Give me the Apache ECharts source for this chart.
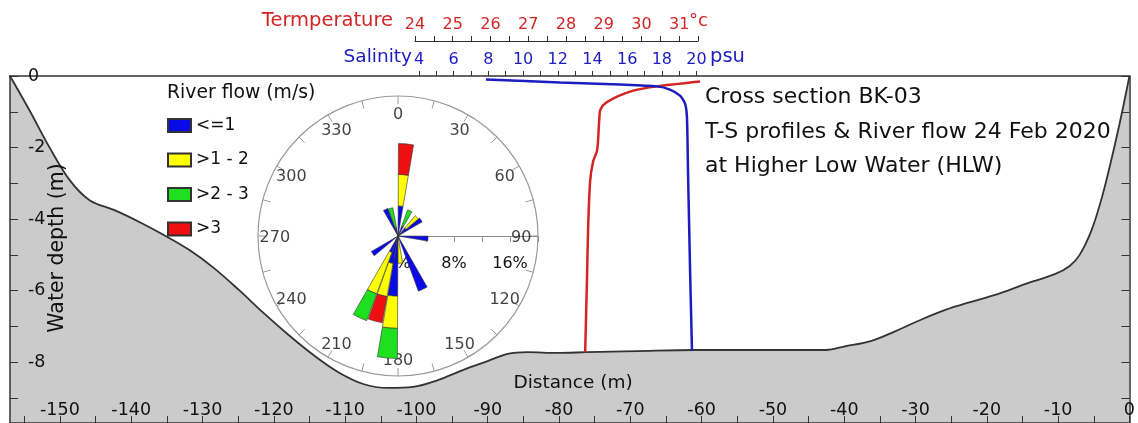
<!DOCTYPE html>
<html>
<head>
<meta charset="utf-8">
<script src="https://cdn.jsdelivr.net/npm/echarts@6/dist/echarts.min.js"></script>
<style>
html,body{margin:0;padding:0;background:#fff;}
#chart{width:1138px;height:423px;}
</style>
</head>
<body>
<div id="chart"></div>
<script>
// ---------------- DATA ----------------
// Cross-section bottom profile (distance in m, depth in m)
const bathyX = [-157.0, -154.21, -151.42, -148.63, -145.84, -142.35, -138.86, -135.37, -131.88, -128.39, -124.90, -121.41, -117.92, -114.44, -110.95, -107.46, -103.97, -100.48, -96.99, -93.50, -90.01, -87.22, -84.43, -80.24, -76.06, -69.08, -60.71, -42.57, -39.77, -36.28, -32.79, -29.31, -25.82, -22.33, -18.84, -14.65, -10.47, -8.38, -6.98, -5.31, -3.77, -2.38, -1.12, 0];
const bathyDepth = [0, -0.98, -2.01, -2.91, -3.47, -3.75, -4.08, -4.45, -4.86, -5.37, -5.98, -6.63, -7.24, -7.80, -8.28, -8.61, -8.72, -8.69, -8.50, -8.22, -7.97, -7.77, -7.72, -7.74, -7.72, -7.69, -7.66, -7.66, -7.55, -7.41, -7.13, -6.82, -6.54, -6.32, -6.12, -5.82, -5.54, -5.31, -5.00, -4.31, -3.33, -2.21, -1.09, 0];

// Temperature profile (deg C vs depth m)
const tempC = [31.77, 30.41, 29.78, 29.25, 28.98, 28.90, 28.85, 28.82, 28.72, 28.64, 28.59, 28.56, 28.51];
const tempDepth = [-0.13, -0.29, -0.41, -0.63, -0.82, -0.99, -1.83, -2.11, -2.39, -2.95, -4.18, -5.58, -7.73];

// Salinity profile (psu vs depth m)
const salPsu = [7.86, 12.13, 15.59, 17.72, 18.47, 19.05, 19.34, 19.45, 19.51, 19.63, 19.74];
const salDepth = [-0.10, -0.18, -0.24, -0.29, -0.38, -0.55, -0.77, -1.16, -2.64, -5.44, -7.67];

// Tick labels
const distanceTicks = [-150, -140, -130, -120, -110, -100, -90, -80, -70, -60, -50, -40, -30, -20, -10, 0];
const distanceMinorTicks = [-155, -150, -145, -140, -135, -130, -125, -120, -115, -110, -105, -100, -95, -90, -85, -80, -75, -70, -65, -60, -55, -50, -45, -40, -35, -30, -25, -20, -15, -10, -5, 0];
const depthTicks = [0, -2, -4, -6, -8];
const depthMinorTicks = [0, -1, -2, -3, -4, -5, -6, -7, -8, -9];
const tempTicks = [24, 25, 26, 27, 28, 29, 30, 31];
const salTicks = [4, 6, 8, 10, 12, 14, 16, 18, 20];
const compassLabels = [0, 30, 60, 90, 120, 150, 180, 210, 240, 270, 300, 330];

// River flow rose: direction bins (deg, start of 10-deg bin) and frequency (%) per speed class
const windDirs = [0, 10, 20, 30, 40, 50, 60, 70, 80, 90, 100, 110, 120, 130, 140, 150, 160, 170, 180, 190, 200, 210, 220, 230, 240, 250, 260, 270, 280, 290, 300, 310, 320, 330, 340, 350];
const flowLe1  = [4.3, 0, 1.5, 0, 1.5, 4.0, 0, 0, 0, 4.3, 0, 0, 0, 0, 0, 8.4, 0, 0.4, 8.6, 4.0, 2.5, 0, 0, 4.4, 0, 0, 0, 0, 0, 0, 0, 0, 0, 4.2, 1.2, 0];
const flow1to2 = [4.5, 0, 0, 0, 2.3, 0, 0, 0, 0, 0, 0, 0, 0, 0, 0, 0, 0, 3.5, 4.6, 4.8, 6.3, 0, 0, 0, 0, 0, 0, 0, 0, 0, 0, 0, 0, 0, 0, 0];
const flow2to3 = [0, 0, 2.5, 0, 0, 0, 0, 0, 0, 0, 0, 0, 0, 0, 0, 0, 0, 0, 4.3, 0, 4.1, 0, 0, 0, 0, 0, 0, 0, 0, 0, 0, 0, 0, 0, 2.9, 0];
const flowGt3  = [4.4, 0, 0, 0, 0, 0, 0, 0, 0, 0, 0, 0, 0, 0, 0, 0, 0, 0, 0, 3.8, 0, 0, 0, 0, 0, 0, 0, 0, 0, 0, 0, 0, 0, 0, 0, 0];
const speedClasses = ['<=1', '>1 - 2', '>2 - 3', '>3'];

// ---------------- CHART ----------------
const F = 'DejaVu Sans';
const chart = echarts.init(document.getElementById('chart'), null, {renderer: 'canvas'});

// angle category order for bar polar: start at east (compass 90) going clockwise
const barCats = [];
for (let i = 0; i < windDirs.length; i++) barCats.push(String(windDirs[(i + 9) % windDirs.length]));
const flowArrays = [flowLe1, flow1to2, flow2to3, flowGt3];
const flowColors = ['#0a0ae6', '#ffff00', '#1fe01f', '#ee1010'];

const roseSeries = speedClasses.map((name, k) => ({
  type: 'bar',
  name: name,
  coordinateSystem: 'polar',
  polarIndex: 1,
  stack: 'flow',
  barCategoryGap: '6%',
  data: barCats.map(c => {
    const v = flowArrays[k][windDirs.indexOf(+c)];
    return v > 0 ? v : null;
  }),
  itemStyle: {color: flowColors[k], borderColor: '#333', borderWidth: 0.6},
  z: 5,
  silent: true
}));

const CENTER = [398, 236];

const option = {
  animation: false,
  backgroundColor: '#ffffff',
  textStyle: {fontFamily: F},
  grid: [
    {left: 10, right: 3, top: 76, bottom: 0},
    {left: 415, width: 283, top: 76, bottom: 0},
    {left: 419, width: 277.5, top: 76, bottom: 0}
  ],
  xAxis: [
    {
      gridIndex: 0, type: 'value', position: 'bottom', min: -157, max: 0, z: 10,
      axisLine: {show: true, onZero: false, lineStyle: {color: '#333', width: 1.5}},
      axisTick: {show: true, inside: true, length: 7, customValues: distanceMinorTicks, lineStyle: {color: '#333'}},
      axisLabel: {inside: true, margin: 4, customValues: distanceTicks, fontFamily: F, fontSize: 17.5, color: '#111'},
      splitLine: {show: false}
    },
    {
      gridIndex: 0, type: 'value', position: 'top', min: -157, max: 0, z: 10,
      axisLine: {show: true, onZero: false, lineStyle: {color: '#333', width: 1.5}},
      axisTick: {show: false}, axisLabel: {show: false}, splitLine: {show: false}
    },
    {
      gridIndex: 1, type: 'value', position: 'top', offset: 35, min: 24, max: 31.5, interval: 0.5,
      axisLine: {show: true, onZero: false, lineStyle: {color: '#333', width: 1.2}},
      axisTick: {show: true, length: 5, lineStyle: {color: '#333'}},
      axisLabel: {margin: 8, customValues: tempTicks, fontFamily: F, fontSize: 16, color: '#d42424'},
      splitLine: {show: false}
    },
    {
      gridIndex: 2, type: 'value', position: 'top', min: 4, max: 20, interval: 1,
      axisLine: {show: false, onZero: false},
      axisTick: {show: true, length: 5, lineStyle: {color: '#333'}},
      axisLabel: {margin: 8, customValues: salTicks, fontFamily: F, fontSize: 16, color: '#1c1cc0'},
      splitLine: {show: false}
    }
  ],
  yAxis: [
    {
      gridIndex: 0, type: 'value', position: 'left', min: -9.7, max: 0, z: 10,
      axisLine: {show: true, onZero: false, lineStyle: {color: '#333', width: 1.5}},
      axisTick: {show: true, inside: true, length: 8, customValues: depthMinorTicks, lineStyle: {color: '#333'}},
      axisLabel: {inside: true, margin: 18, customValues: depthTicks, fontFamily: F, fontSize: 17.5, color: '#111'},
      splitLine: {show: false}
    },
    {
      gridIndex: 0, type: 'value', position: 'right', min: -9.7, max: 0, z: 10,
      axisLine: {show: true, onZero: false, lineStyle: {color: '#333', width: 1.5}},
      axisTick: {show: true, inside: true, length: 8, customValues: depthMinorTicks, lineStyle: {color: '#333'}},
      axisLabel: {show: false}, splitLine: {show: false}
    },
    {gridIndex: 1, type: 'value', min: -9.7, max: 0, show: false},
    {gridIndex: 2, type: 'value', min: -9.7, max: 0, show: false}
  ],
  polar: [
    {center: CENTER, radius: 140},
    {center: CENTER, radius: 140}
  ],
  angleAxis: [
    {
      polarIndex: 0, type: 'value', min: 0, max: 360, interval: 15, startAngle: 0, clockwise: true,
      axisLine: {show: true, lineStyle: {color: '#9a9a9a', width: 1.2}},
      axisTick: {show: true, inside: true, length: 8, lineStyle: {color: '#9a9a9a'}},
      axisLabel: {show: false}, splitLine: {show: false}, z: 3
    },
    {polarIndex: 1, type: 'category', data: barCats, startAngle: 0, clockwise: true, show: false}
  ],
  radiusAxis: [
    {
      polarIndex: 0, type: 'value', min: 0, max: 20, interval: 4,
      axisLine: {show: true, lineStyle: {color: '#8a8a8a', width: 1.2}},
      axisTick: {show: true, length: -6, lineStyle: {color: '#8a8a8a'}},
      axisLabel: {
        margin: -36, fontFamily: F, fontSize: 16, color: '#111',
        formatter: v => (v === 0 || v === 8 || v === 16) ? v + '%' : ''
      },
      splitLine: {show: false}, z: 3
    },
    {polarIndex: 1, type: 'value', min: 0, max: 20, show: false}
  ],
  legend: {
    data: speedClasses,
    orient: 'vertical', left: 167, top: 115.5, padding: 0,
    itemWidth: 23, itemHeight: 13, itemGap: 14.5, icon: 'rect',
    selectedMode: false,
    textStyle: {fontFamily: F, fontSize: 17, color: '#111', lineHeight: 20}
  },
  series: [
    {
      type: 'line', name: 'bottom', xAxisIndex: 0, yAxisIndex: 0,
      data: bathyX.map((x, i) => [x, bathyDepth[i]]),
      showSymbol: false, smooth: 0.35,
      lineStyle: {color: '#333', width: 1.8},
      areaStyle: {color: '#cbcbcb', origin: 'start', opacity: 1},
      z: 1, silent: true
    },
    {
      type: 'line', name: 'Temperature', xAxisIndex: 2, yAxisIndex: 2,
      data: tempC.map((t, i) => [t, tempDepth[i]]),
      showSymbol: false, smooth: 0.2, clip: false,
      lineStyle: {color: '#d42424', width: 2.5}, z: 6, silent: true
    },
    {
      type: 'line', name: 'Salinity', xAxisIndex: 3, yAxisIndex: 3,
      data: salPsu.map((s, i) => [s, salDepth[i]]),
      showSymbol: false, smooth: 0.2, clip: false,
      lineStyle: {color: '#1c1cc0', width: 2.5}, z: 7, silent: true
    },
    ...roseSeries,
    {
      type: 'scatter', name: 'angleLabels', coordinateSystem: 'polar', polarIndex: 0,
      symbolSize: 1, itemStyle: {color: 'rgba(0,0,0,0)'},
      data: compassLabels.map(c => [17.6, (c + 270) % 360, c]),
      label: {show: true, position: 'inside', offset: [0, 2], formatter: p => String(p.data[2]), fontFamily: F, fontSize: 16, color: '#111'},
      z: 4, silent: true
    }
  ],
  graphic: [
    {type: 'text', x: 393, y: 21, style: {text: 'Termperature', font: '19.5px "DejaVu Sans"', fill: '#d42424', align: 'right', verticalAlign: 'middle'}, z: 10},
    {type: 'text', x: 689, y: 21, style: {text: '°c', font: '18px "DejaVu Sans"', fill: '#d42424', align: 'left', verticalAlign: 'middle'}, z: 10},
    {type: 'text', x: 412, y: 57, style: {text: 'Salinity', font: '18.5px "DejaVu Sans"', fill: '#1c1cc0', align: 'right', verticalAlign: 'middle'}, z: 10},
    {type: 'text', x: 710, y: 57, style: {text: 'psu', font: '19.5px "DejaVu Sans"', fill: '#1c1cc0', align: 'left', verticalAlign: 'middle'}, z: 10},
    {type: 'text', x: 167, y: 93, style: {text: 'River flow (m/s)', font: '18.8px "DejaVu Sans"', fill: '#111', align: 'left', verticalAlign: 'middle'}, z: 10},
    {type: 'text', x: 705, y: 97, style: {text: 'Cross section BK-03', font: '22px "DejaVu Sans"', fill: '#111', align: 'left', verticalAlign: 'middle'}, z: 10},
    {type: 'text', x: 705, y: 132, style: {text: 'T-S profiles & River flow 24 Feb 2020', font: '22px "DejaVu Sans"', fill: '#111', align: 'left', verticalAlign: 'middle'}, z: 10},
    {type: 'text', x: 705, y: 166, style: {text: 'at Higher Low Water (HLW)', font: '22px "DejaVu Sans"', fill: '#111', align: 'left', verticalAlign: 'middle'}, z: 10},
    {type: 'text', x: 58, y: 248, rotation: Math.PI / 2, style: {text: 'Water depth (m)', font: '20.5px "DejaVu Sans"', fill: '#111', align: 'center', verticalAlign: 'middle'}, z: 10},
    {type: 'text', x: 573, y: 383, style: {text: 'Distance (m)', font: '18.5px "DejaVu Sans"', fill: '#111', align: 'center', verticalAlign: 'middle'}, z: 10}
  ]
};
chart.setOption(option);
</script>
</body>
</html>
